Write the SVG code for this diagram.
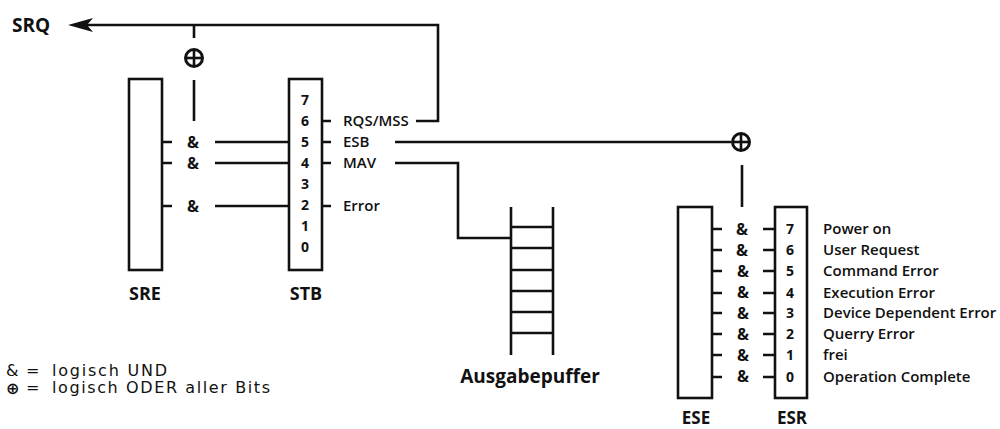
<svg xmlns="http://www.w3.org/2000/svg" width="1000" height="429" viewBox="0 0 1000 429">
<style>
.ln{fill:none;stroke:#111;stroke-width:2.6;stroke-linejoin:miter;stroke-linecap:butt}
.box{fill:#fff;stroke:#111;stroke-width:2.6}
.t{font-family:"Open Sans","Liberation Sans",sans-serif;font-size:15px;font-weight:600;fill:#111}
.n{font-family:"Open Sans","Liberation Sans",sans-serif;font-size:14px;font-weight:bold;fill:#111;text-anchor:middle}
.amp{font-family:"Open Sans","Liberation Sans",sans-serif;font-size:16px;font-weight:bold;fill:#111;text-anchor:middle}
.b{font-family:"Open Sans","Liberation Sans",sans-serif;font-size:18px;font-weight:bold;fill:#111}
.lg{font-family:"DejaVu Sans","Open Sans",sans-serif;font-size:16px;fill:#111}
.lgs{font-family:"DejaVu Sans","Open Sans",sans-serif;font-size:16px;font-weight:bold;fill:#111}
</style>
<defs>
<g id="orsym"><circle cx="0" cy="0" r="8.5" fill="#fff" stroke="#111" stroke-width="3"/><line x1="-8.5" y1="0" x2="8.5" y2="0" stroke="#111" stroke-width="2.6"/><line x1="0" y1="-8.5" x2="0" y2="8.5" stroke="#111" stroke-width="2.6"/></g>
</defs>
<g id="connectors">
<path class="ln" d="M416,121 H438 V25 H84"/>
<path d="M68,25 L93,18 L87,25 L93,32 Z" fill="#111"/>
<path class="ln" d="M194,25 V38"/>
<path class="ln" d="M194,80 V121"/>
<path class="ln" d="M162,142 H172 M215,142 H289"/>
<path class="ln" d="M162,163 H172 M215,163 H289"/>
<path class="ln" d="M162,206 H172 M215,206 H289"/>
<path class="ln" d="M322,121 H331 M322,142 H331 M322,163 H331 M322,206 H331"/>
<path class="ln" d="M395,142 H731"/>
<path class="ln" d="M395,163 H458 V238 H511"/>
<path class="ln" d="M742,165 V207"/>
<path class="ln" d="M712,229 H722 M712,250 H722 M712,271 H722 M712,293 H722 M712,313 H722 M712,334 H722 M712,355 H722 M712,377 H722"/>
<path class="ln" d="M763,229 H775 M763,250 H775 M763,271 H775 M763,293 H775 M763,313 H775 M763,334 H775 M763,355 H775 M763,377 H775"/>
</g>
<g id="SRQ"><text class="b" x="12" y="32" style="font-size:19px">SRQ</text></g>
<g id="or1"><use href="#orsym" x="194" y="58"/></g>
<g id="or2"><use href="#orsym" x="741" y="142"/></g>
<g id="SRE">
<rect class="box" x="129" y="79" width="33" height="191"/>
<text class="b" x="145" y="300" text-anchor="middle">SRE</text>
</g>
<g id="and-STB">
<text class="amp" x="193" y="148">&amp;</text>
<text class="amp" x="193" y="169">&amp;</text>
<text class="amp" x="193" y="212">&amp;</text>
</g>
<g id="STB">
<rect class="box" x="289" y="79" width="33" height="191"/>
<text class="n" x="305" y="105">7</text>
<text class="n" x="305" y="126">6</text>
<text class="n" x="305" y="147">5</text>
<text class="n" x="305" y="168">4</text>
<text class="n" x="305" y="189">3</text>
<text class="n" x="305" y="210">2</text>
<text class="n" x="305" y="231">1</text>
<text class="n" x="305" y="252">0</text>
<text class="b" x="306" y="300" text-anchor="middle">STB</text>
<text class="t" x="343" y="126">RQS/MSS</text>
<text class="t" x="343" y="147">ESB</text>
<text class="t" x="343" y="168">MAV</text>
<text class="t" x="343" y="211">Error</text>
</g>
<g id="Ausgabepuffer">
<path class="ln" d="M511,207 V355 M553,207 V355 M511,227 H553 M511,248 H553 M511,270 H553 M511,291 H553 M511,312 H553 M511,333 H553"/>
<text class="b" x="530" y="383" text-anchor="middle" style="font-size:19px">Ausgabepuffer</text>
</g>
<g id="ESE">
<rect class="box" x="678" y="207" width="34" height="191"/>
<text class="b" x="696" y="424" text-anchor="middle" style="font-size:17px">ESE</text>
</g>
<g id="and-ESR">
<text class="amp" x="742" y="235">&amp;</text>
<text class="amp" x="742" y="256">&amp;</text>
<text class="amp" x="743" y="277">&amp;</text>
<text class="amp" x="743" y="298">&amp;</text>
<text class="amp" x="743" y="319">&amp;</text>
<text class="amp" x="743" y="340">&amp;</text>
<text class="amp" x="743" y="361">&amp;</text>
<text class="amp" x="743" y="382">&amp;</text>
</g>
<g id="ESR">
<rect class="box" x="775" y="207" width="32" height="191"/>
<text class="n" x="790" y="234">7</text>
<text class="n" x="790" y="255">6</text>
<text class="n" x="790" y="276">5</text>
<text class="n" x="790" y="298">4</text>
<text class="n" x="790" y="318">3</text>
<text class="n" x="790" y="339">2</text>
<text class="n" x="790" y="360">1</text>
<text class="n" x="790" y="382">0</text>
<text class="b" x="792" y="424" text-anchor="middle" style="font-size:17px">ESR</text>
<text class="t" x="823" y="234">Power on</text>
<text class="t" x="823" y="255">User Request</text>
<text class="t" x="823" y="276">Command Error</text>
<text class="t" x="823" y="298">Execution Error</text>
<text class="t" x="823" y="318">Device Dependent Error</text>
<text class="t" x="823" y="339">Querry Error</text>
<text class="t" x="823" y="360">frei</text>
<text class="t" x="823" y="382">Operation Complete</text>
</g>
<g id="legend">
<text class="lg" x="6" y="376">&amp;</text>
<text class="lg" x="26" y="376">=</text>
<text class="lg" x="52" y="376" textLength="115" lengthAdjust="spacing">logisch UND</text>
<text class="lgs" x="6" y="394">⊕</text>
<text class="lg" x="26" y="393">=</text>
<text class="lg" x="52" y="393" textLength="218" lengthAdjust="spacing">logisch ODER aller Bits</text>
</g>
</svg>
